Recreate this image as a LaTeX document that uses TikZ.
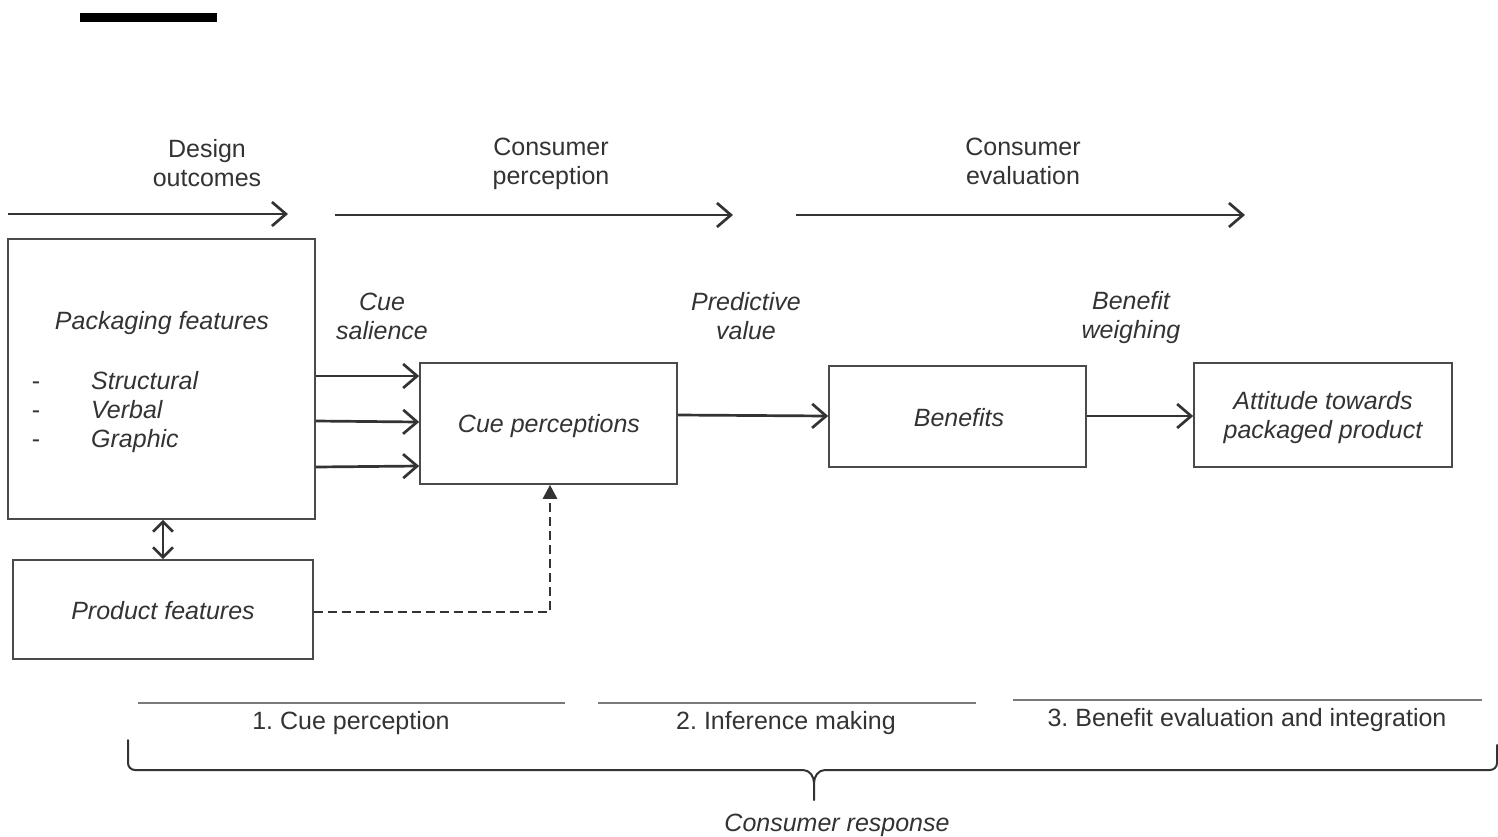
\documentclass[tikz,border=0pt]{standalone}
\usepackage{fontspec}
\setmainfont{Liberation Sans}
\usetikzlibrary{arrows.meta}
\definecolor{ink}{HTML}{333333}
\definecolor{edge}{HTML}{4A4A4A}
\definecolor{rule}{HTML}{7A7A7A}
\frenchspacing
\begin{document}
\begin{tikzpicture}[x=1pt,y=-1pt,
  txt/.style={text=ink,font=\fontsize{25}{29}\selectfont,inner sep=0pt,align=center},
  itx/.style={text=ink,font=\fontsize{25}{29}\selectfont\itshape,inner sep=0pt,align=center},
  box/.style={draw=edge,line width=1.6pt,inner sep=0pt},
  arr/.style={draw=ink,line width=2.7pt,-{Straight Barb[length=14pt,width=24pt]}},
  darr/.style={draw=ink,line width=2.7pt,{Straight Barb[length=10pt,width=20pt]}-{Straight Barb[length=10pt,width=20pt]}},
  dasharr/.style={draw=ink,line width=2.7pt,dash pattern=on 9pt off 5pt,-{Triangle[length=14pt,width=14pt]}},
  sep/.style={draw=rule,line width=2pt},
  bracel/.style={draw=ink,line width=2pt,line cap=round,line join=round}]
\useasboundingbox (0,0) rectangle (1498,836);
% black bar
\fill[black] (80,13) rectangle (217,22);
% top process arrows
\coordinate (a1s) at (8,214); \coordinate (a1e) at (288,214);
\coordinate (a2s) at (335,215); \coordinate (a2e) at (733,215);
\coordinate (a3s) at (796,215); \coordinate (a3e) at (1245,215);
\draw[arr] (a1s) -- (a1e);
\draw[arr] (a2s) -- (a2e);
\draw[arr] (a3s) -- (a3e);
\node[txt] (t1) at (207,163.5) {Design\\outcomes};
\node[txt] (t2) at (551,164) {Consumer\\perception};
\node[txt] (t3) at (1023,161) {Consumer\\evaluation};
% boxes
\node[box,minimum width=307pt,minimum height=280pt] (pack) at (161.5,379) {};
\node[box,minimum width=300pt,minimum height=99pt] (prod) at (163,609.5) {};
\node[box,minimum width=257pt,minimum height=121pt] (cue) at (548.5,423.5) {};
\node[box,minimum width=257pt,minimum height=101pt] (ben) at (957.5,416.5) {};
\node[box,minimum width=258pt,minimum height=104pt] (att) at (1323,415) {};
% box texts
\node[itx] (packt) at (162,323) {Packaging features};
\node[txt,anchor=base] (d1) at (36,389) {-};
\node[txt,anchor=base] (d2) at (36,418) {-};
\node[txt,anchor=base] (d3) at (36,447) {-};
\node[itx,anchor=base west] (l1) at (91,389) {Structural};
\node[itx,anchor=base west] (l2) at (91,418) {Verbal};
\node[itx,anchor=base west] (l3) at (91,447) {Graphic};
\node[itx] (prodt) at (163,611) {Product features};
\node[itx] (cuet) at (549,426) {Cue perceptions};
\node[itx] (bent) at (959,418) {Benefits};
\node[itx] (attt) at (1323,418) {Attitude towards\\packaged product};
% labels over arrows
\node[itx] (lab1) at (382,316.5) {Cue\\salience};
\node[itx] (lab2) at (746,316.5) {Predictive\\value};
\node[itx] (lab3) at (1131,318) {Benefit\\weighing};
% connectors
\draw[arr] (pack.east |- 0,376) -- (cue.west |- 0,376);
\draw[arr] (pack.east |- 0,421) -- (cue.west |- 0,422);
\draw[arr] (pack.east |- 0,467) -- (cue.west |- 0,466);
\draw[arr] (cue.east |- 0,415) -- (ben.west |- 0,416);
\draw[arr] (ben.east |- 0,416) -- (att.west |- 0,416);
\draw[darr] (pack.south -| 163,0) -- (prod.north);
\draw[dasharr] (prod.east |- 0,612) -| (cue.south -| 550,0);
% phase rules
\draw[sep] (138,703) -- (565,703);
\draw[sep] (598,703) -- (976,703);
\draw[sep] (1013,700) -- (1482,700);
\node[txt] (p1) at (351,723) {1. Cue perception};
\node[txt] (p2) at (786,723) {2. Inference making};
\node[txt] (p3) at (1247,720) {3. Benefit evaluation and integration};
% brace
\draw[bracel] (128,740) -- (128,763) to[out=-90,in=180] (135,770) -- (803,770)
  to[out=0,in=90] (814,783) -- (814,800);
\draw[bracel] (814,783) to[out=90,in=180] (825,770) -- (1490,770)
  to[out=0,in=-90] (1497,763) -- (1497,745);
\node[itx] (resp) at (837,825) {Consumer response};
\end{tikzpicture}
\end{document}
